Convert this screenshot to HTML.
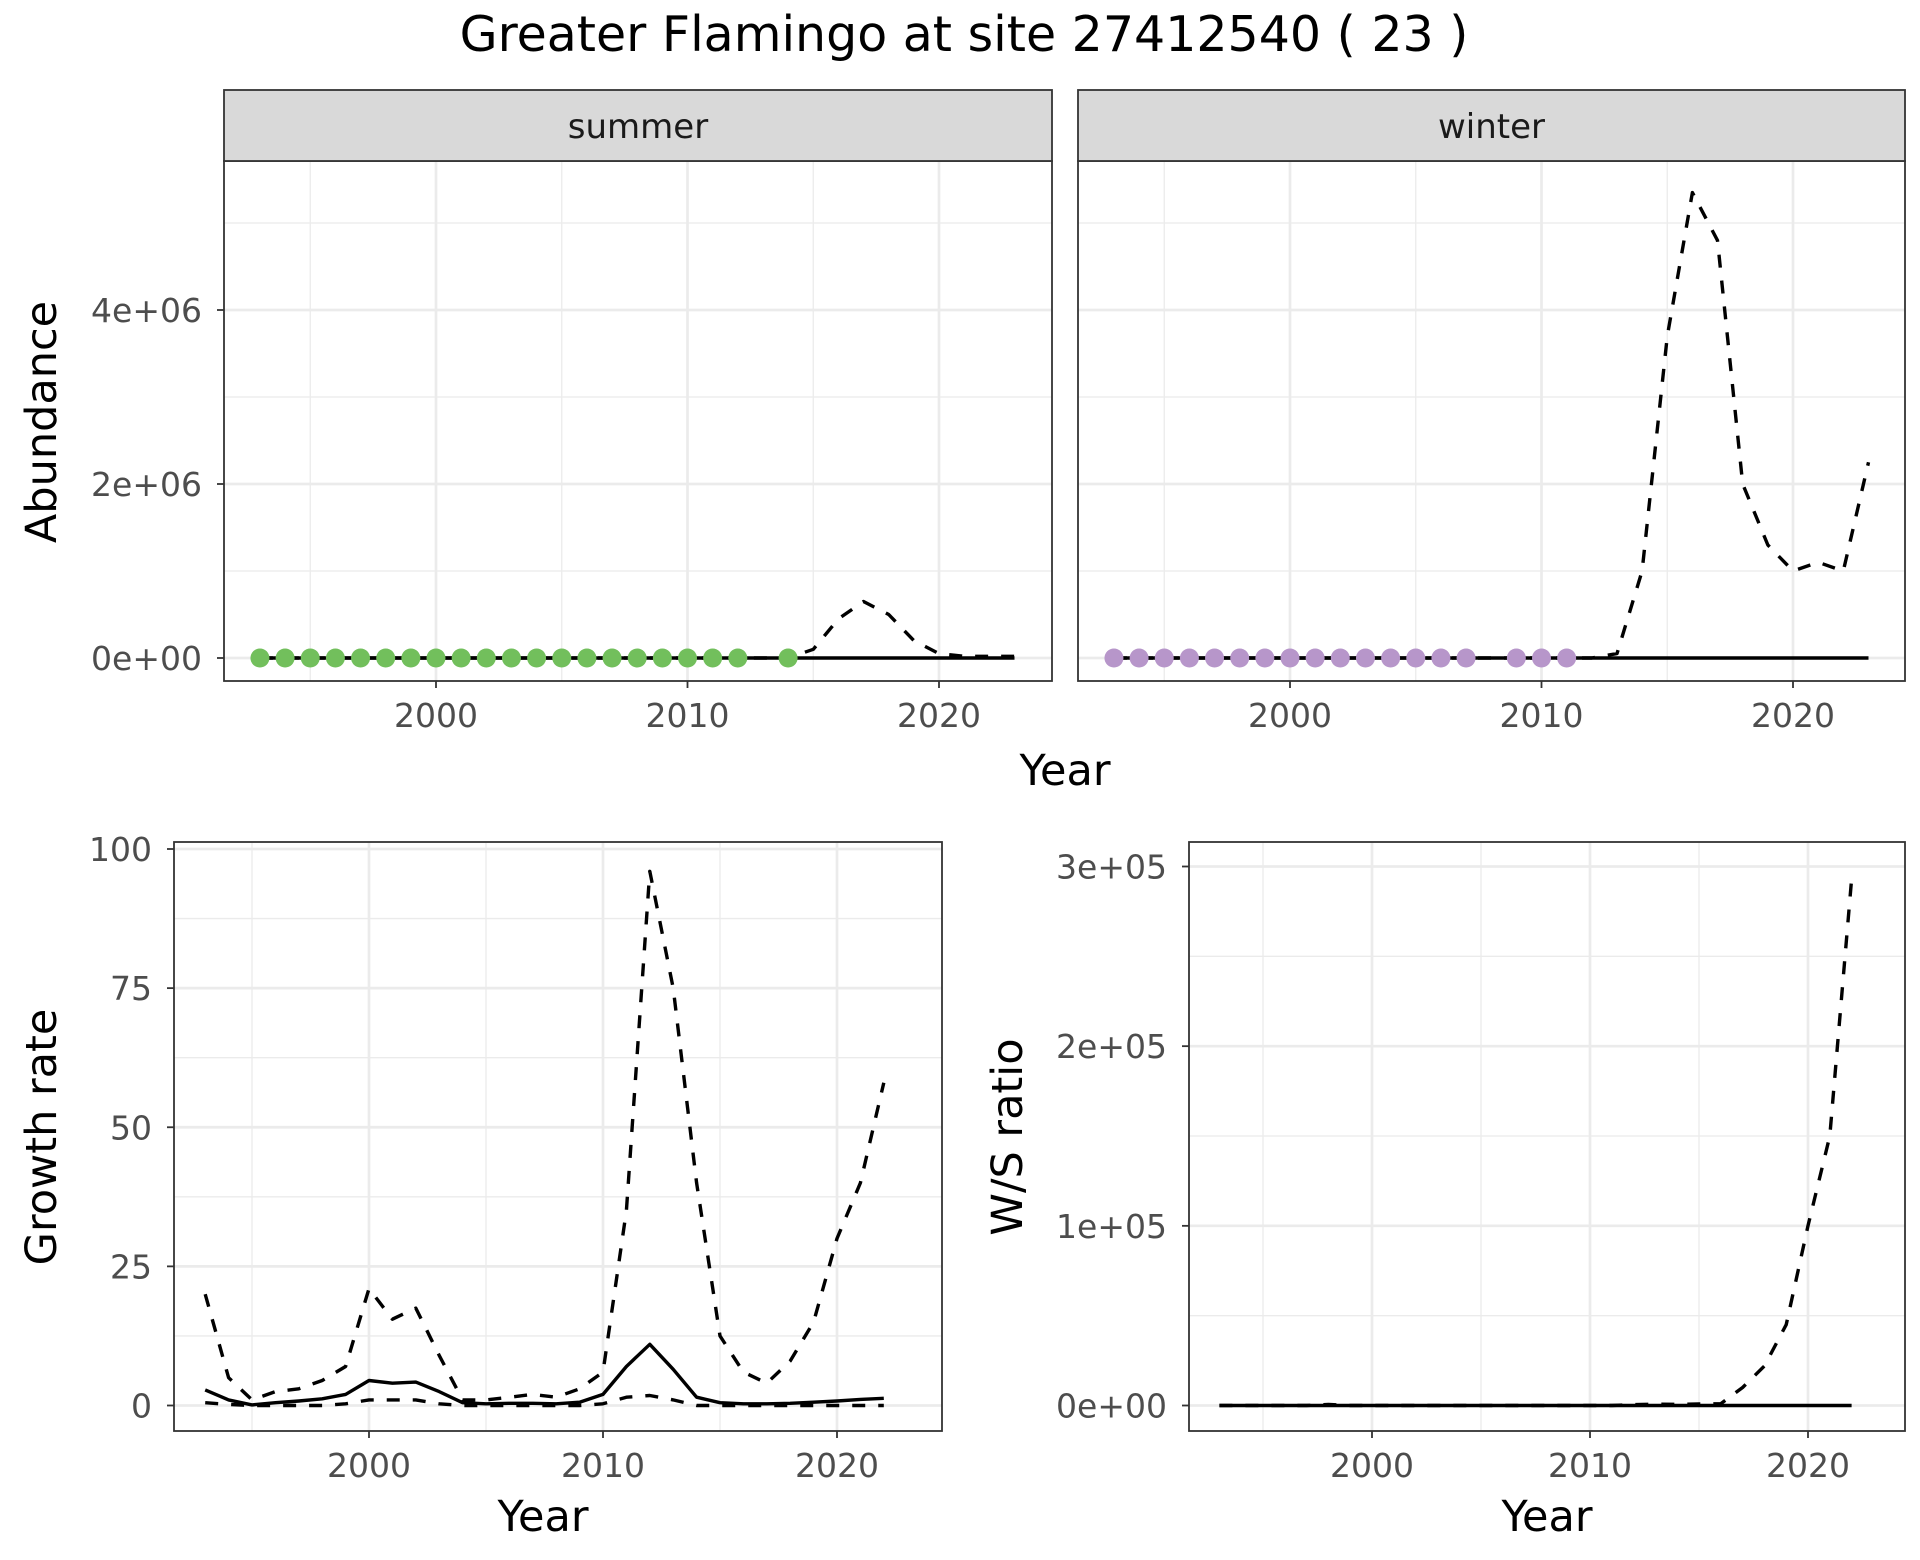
<!DOCTYPE html>
<html><head><meta charset="utf-8"><style>
body{margin:0;background:#fff}
svg{display:block;font-family:"DejaVu Sans","Liberation Sans",sans-serif}
</style></head><body>
<svg id="s" width="1920" height="1560" xmlns="http://www.w3.org/2000/svg">
<text x="964" y="51" font-size="49" text-anchor="middle" fill="#000">Greater Flamingo at site 27412540 ( 23 )</text>
</svg>
<script>
const yearsA = [1993,1994,1995,1996,1997,1998,1999,2000,2001,2002,2003,2004,2005,2006,2007,2008,2009,2010,2011,2012,2013,2014,2015,2016,2017,2018,2019,2020,2021,2022,2023];
const summerSolid = yearsA.map(()=>0);
const summerDash = [0,0,0,0,0,0,0,0,0,0,0,0,0,0,0,0,0,0,0,0,0,0,100000,450000,650000,500000,200000,50000,20000,20000,20000];
const winterSolid = yearsA.map(()=>0);
const winterDash = [0,0,0,0,0,0,0,0,0,0,0,0,0,0,0,0,0,0,0,0,50000,1000000,3700000,5350000,4800000,2000000,1300000,1000000,1100000,1000000,2250000];
const summerPtYears = [1993,1994,1995,1996,1997,1998,1999,2000,2001,2002,2003,2004,2005,2006,2007,2008,2009,2010,2011,2012,2014];
const winterPtYears = [1993,1994,1995,1996,1997,1998,1999,2000,2001,2002,2003,2004,2005,2006,2007,2009,2010,2011];
const yearsG = yearsA.slice(0,30);
const growthUpper = [20,5,1,2.5,3,4.5,7,21,15.5,17.5,9,1,1,1.5,2,1.5,3,6,35,96,75,40,12.5,6,4,8,15,30,40,58];
const growthMid = [2.8,1,0.1,0.5,0.8,1.2,2,4.5,4,4.2,2.5,0.5,0.3,0.4,0.4,0.3,0.6,2,7,11,6.5,1.5,0.5,0.3,0.3,0.4,0.6,0.8,1.1,1.3];
const growthLower = [0.5,0.2,0,0,0,0,0.3,1,1,1,0.3,0,0,0,0,0,0,0.3,1.5,1.8,1,0,0,0,0,0,0,0,0,0];
const ratioDash = [0,0,0,0,0,600,0,0,0,0,0,0,0,0,0,0,0,0,0,500,800,600,900,1000,10000,22000,45000,100000,150000,293000];
const ratioSolid = yearsG.map(()=>0);
const abTicks = [0,2000000,4000000], abLabels = ["0e+00","2e+06","4e+06"], abMinor=[1000000,3000000,5000000];
const grTicks = [0,25,50,75,100], grLabels = ["0","25","50","75","100"], grMinor=[12.5,37.5,62.5,87.5];
const raTicks = [0,100000,200000,300000], raLabels = ["0e+00","1e+05","2e+05","3e+05"], raMinor=[50000,150000,250000];
const xTicks = [2000,2010,2020], xMinor=[1995,2005,2015];

const S=document.getElementById('s'), NS='http://www.w3.org/2000/svg';
function el(t,a,p){const e=document.createElementNS(NS,t);for(const k in a)e.setAttribute(k,a[k]);(p||S).appendChild(e);return e;}
function lin(d0,d1,r0,r1){return v=>r0+(v-d0)*(r1-r0)/(d1-d0);}

function panel(o){
  const g=el('g',{});
  
  
  const {x0,x1,y0,y1}=o, X=o.X, Y=o.Y;
  el('rect',{x:x0,y:y0,width:x1-x0,height:y1-y0,fill:'#fff'},g);
  o.yMinor.forEach(v=>el('line',{x1:x0,x2:x1,y1:Y(v),y2:Y(v),stroke:'#ebebeb','stroke-width':1.3},g));
  xMinor.forEach(v=>el('line',{x1:X(v),x2:X(v),y1:y0,y2:y1,stroke:'#ebebeb','stroke-width':1.3},g));
  o.yTicks.forEach(v=>el('line',{x1:x0,x2:x1,y1:Y(v),y2:Y(v),stroke:'#ebebeb','stroke-width':2.7},g));
  xTicks.forEach(v=>el('line',{x1:X(v),x2:X(v),y1:y0,y2:y1,stroke:'#ebebeb','stroke-width':2.7},g));
  o.series.forEach(s=>{
    const pts=s.xs.map((x,i)=>X(x).toFixed(1)+','+Y(s.ys[i]).toFixed(1)).join(' ');
    const pl=el('polyline',{points:pts,fill:'none',stroke:'#000','stroke-width':3.4,'stroke-dasharray':s.dash?'13 13':'none','stroke-linejoin':'round'},g);
    
    
  });
  if(o.pts){o.pts.forEach(yr=>{
    const c=el('circle',{cx:X(yr),cy:Y(0),r:9.5,fill:o.ptColor},g);
    
    
  });}
  el('rect',{x:x0,y:y0,width:x1-x0,height:y1-y0,fill:'none',stroke:'#333','stroke-width':1.8},g);
  if(o.showY){o.yTicks.forEach((v,i)=>{
    el('line',{x1:x0-7,x2:x0,y1:Y(v),y2:Y(v),stroke:'#333','stroke-width':1.8},g);
    const t=el('text',{x:x0-22,y:Y(v)+12,'font-size':33,'text-anchor':'end',fill:'#4d4d4d'},g);t.textContent=o.yLabels[i];
    
    
  });}
  xTicks.forEach(v=>{
    el('line',{x1:X(v),x2:X(v),y1:y1,y2:y1+7,stroke:'#333','stroke-width':1.8},g);
    const t=el('text',{x:X(v),y:y1+46,'font-size':33,'text-anchor':'middle',fill:'#4d4d4d'},g);t.textContent=v;
    
    
  });
  if(o.strip){
    el('rect',{x:x0,y:90,width:x1-x0,height:y0-90,fill:'#d9d9d9',stroke:'#333','stroke-width':1.8},g);
    const t=el('text',{x:(x0+x1)/2,y:138,'font-size':34,'text-anchor':'middle',fill:'#1a1a1a'},g);t.textContent=o.strip;
    
    
  }
}
function label(txt,x,y,rot,name){
  const t=el('text',{x:x,y:y,'font-size':43,'text-anchor':'middle',fill:'#000',transform:rot?`rotate(-90 ${x} ${y})`:''});
  t.textContent=txt;
  
  
}
const Yab=lin(0,2000000,658,484);
panel({name:'summer-panel',x0:224,x1:1052,y0:161,y1:681,X:lin(2000,2020,436,939),Y:Yab,yTicks:abTicks,yLabels:abLabels,yMinor:abMinor,showY:true,strip:'summer',
  series:[{xs:yearsA,ys:summerSolid,dash:false,name:'summer-line'},{xs:yearsA,ys:summerDash,dash:true,name:'summer-dashed-line'}],pts:summerPtYears,ptColor:'#72bf5c'});
panel({name:'winter-panel',x0:1078,x1:1905,y0:161,y1:681,X:lin(2000,2020,1290,1793),Y:Yab,yTicks:abTicks,yLabels:abLabels,yMinor:abMinor,showY:false,strip:'winter',
  series:[{xs:yearsA,ys:winterSolid,dash:false,name:'winter-line'},{xs:yearsA,ys:winterDash,dash:true,name:'winter-dashed-line'}],pts:winterPtYears,ptColor:'#b796ca'});
panel({name:'growth-panel',x0:174,x1:942,y0:842,y1:1431,X:lin(2000,2020,369,837),Y:lin(0,100,1405.5,849),yTicks:grTicks,yLabels:grLabels,yMinor:grMinor,showY:true,
  series:[{xs:yearsG,ys:growthMid,dash:false,name:'growth-line'},{xs:yearsG,ys:growthUpper,dash:true,name:'growth-upper'},{xs:yearsG,ys:growthLower,dash:true,name:'growth-lower'}]});
panel({name:'ratio-panel',x0:1189,x1:1905,y0:842,y1:1431,X:lin(2000,2020,1372,1808),Y:lin(0,300000,1405.5,866.5),yTicks:raTicks,yLabels:raLabels,yMinor:raMinor,showY:true,
  series:[{xs:yearsG,ys:ratioSolid,dash:false,name:'ratio-line'},{xs:yearsG,ys:ratioDash,dash:true,name:'ratio-dashed-line'}]});
label('Year',1065,785,false,'x-axis-title-top');
label('Abundance',56,422,true,'y-axis-title-abundance');
label('Year',543,1531,false,'x-axis-title-growth');
label('Growth rate',56,1137,true,'y-axis-title-growth');
label('Year',1547,1531,false,'x-axis-title-ratio');
label('W/S ratio',1022,1137,true,'y-axis-title-ratio');
</script>
</body></html>
